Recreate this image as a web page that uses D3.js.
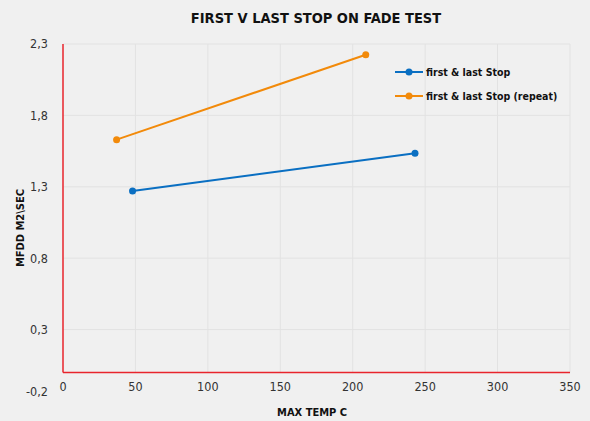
<!DOCTYPE html>
<html>
<head>
<meta charset="utf-8">
<script src="https://cdn.jsdelivr.net/npm/d3@7"></script>
<style>
  body { margin: 0; background: #f0f0f0; }
  svg { display: block; font-family: "DejaVu Sans Condensed", "DejaVu Sans", sans-serif; }
</style>
</head>
<body>
<div id="chart"></div>
<script>
// Données
const seriesNames = ["first & last Stop", "first & last Stop (repeat)"];
const seriesColors = ["#0a6fc2", "#f28a0a"];
const firstLastX = [48, 243];
const firstLastY = [1.27, 1.535];
const repeatX = [37, 209];
const repeatY = [1.63, 2.225];
const xTicks = [0, 50, 100, 150, 200, 250, 300, 350];
const yTicks = [-0.2, 0.3, 0.8, 1.3, 1.8, 2.3];

const series = [
    { name: seriesNames[0], color: seriesColors[0], pts: firstLastX.map((x, i) => ({ x, y: firstLastY[i] })) },
    { name: seriesNames[1], color: seriesColors[1], pts: repeatX.map((x, i) => ({ x, y: repeatY[i] })) }
];

const W = 590, H = 421;
const svg = d3.select("#chart").append("svg").attr("width", W).attr("height", H);

const x = d3.scaleLinear().domain([0, 350]).range([63, 570]);
const y = d3.scaleLinear().domain([-0.2, 2.3]).range([401, 44]);
const fmt = d => d.toFixed(1).replace(".", ",");

// Titre
svg.append("text").attr("x", 316).attr("y", 23).attr("text-anchor", "middle")
    .style("font-size", "14.5px").style("font-weight", "bold").style("fill", "#111")
    .text("FIRST V LAST STOP ON FADE TEST");

// Grille
svg.append("g").selectAll("line").data(yTicks.filter(d => d > 0)).join("line")
    .attr("x1", x(0)).attr("x2", x(350)).attr("y1", d => y(d)).attr("y2", d => y(d))
    .style("stroke", "#e2e2e2").style("stroke-width", 1);
svg.append("g").selectAll("line").data(xTicks.filter(d => d > 0)).join("line")
    .attr("x1", d => x(d)).attr("x2", d => x(d)).attr("y1", y(2.3)).attr("y2", y(0))
    .style("stroke", "#e2e2e2").style("stroke-width", 1);

// Axes (rouge)
svg.append("line").attr("x1", x(0)).attr("x2", x(0)).attr("y1", y(2.3)).attr("y2", y(0))
    .style("stroke", "#e8242c").style("stroke-width", 1.5);
svg.append("line").attr("x1", x(0)).attr("x2", x(350)).attr("y1", y(0)).attr("y2", y(0))
    .style("stroke", "#e8242c").style("stroke-width", 1.5);

// Labels des ticks
svg.append("g").selectAll("text").data(yTicks).join("text")
    .attr("x", 48).attr("y", d => d < 0 ? y(d) - 9 : y(d))
    .attr("dy", "0.35em").attr("text-anchor", "end")
    .style("font-size", "12.5px").style("fill", "#333")
    .text(fmt);
svg.append("g").selectAll("text").data(xTicks).join("text")
    .attr("x", d => x(d)).attr("y", y(0) + 19)
    .attr("text-anchor", "middle")
    .style("font-size", "12.5px").style("fill", "#333")
    .text(d => d);

// Titres des axes
svg.append("text").attr("transform", `translate(24,228) rotate(-90)`).attr("text-anchor", "middle")
    .style("font-size", "11px").style("font-weight", "bold").style("fill", "#111")
    .text("MFDD M2\\SEC");
svg.append("text").attr("x", 312).attr("y", 416).attr("text-anchor", "middle")
    .style("font-size", "11px").style("font-weight", "bold").style("fill", "#111")
    .text("MAX TEMP C");

// Séries
const line = d3.line().x(d => x(d.x)).y(d => y(d.y));
series.forEach(s => {
    svg.append("path").datum(s.pts).attr("d", line)
        .style("fill", "none").style("stroke", s.color).style("stroke-width", 2);
    svg.append("g").selectAll("circle").data(s.pts).join("circle")
        .attr("cx", d => x(d.x)).attr("cy", d => y(d.y)).attr("r", 3.5)
        .style("fill", s.color);
});

// Légende
series.forEach((s, i) => {
    const g = svg.append("g").attr("transform", `translate(395,${72 + i * 24})`);
    g.append("line").attr("x1", 0).attr("x2", 28).style("stroke", s.color).style("stroke-width", 2);
    g.append("circle").attr("cx", 14).attr("r", 3.5).style("fill", s.color);
    g.append("text").attr("x", 31).attr("dy", "0.35em")
        .style("font-size", "10.5px").style("font-weight", "bold").style("fill", "#111")
        .text(s.name);
});
</script>
</body>
</html>
